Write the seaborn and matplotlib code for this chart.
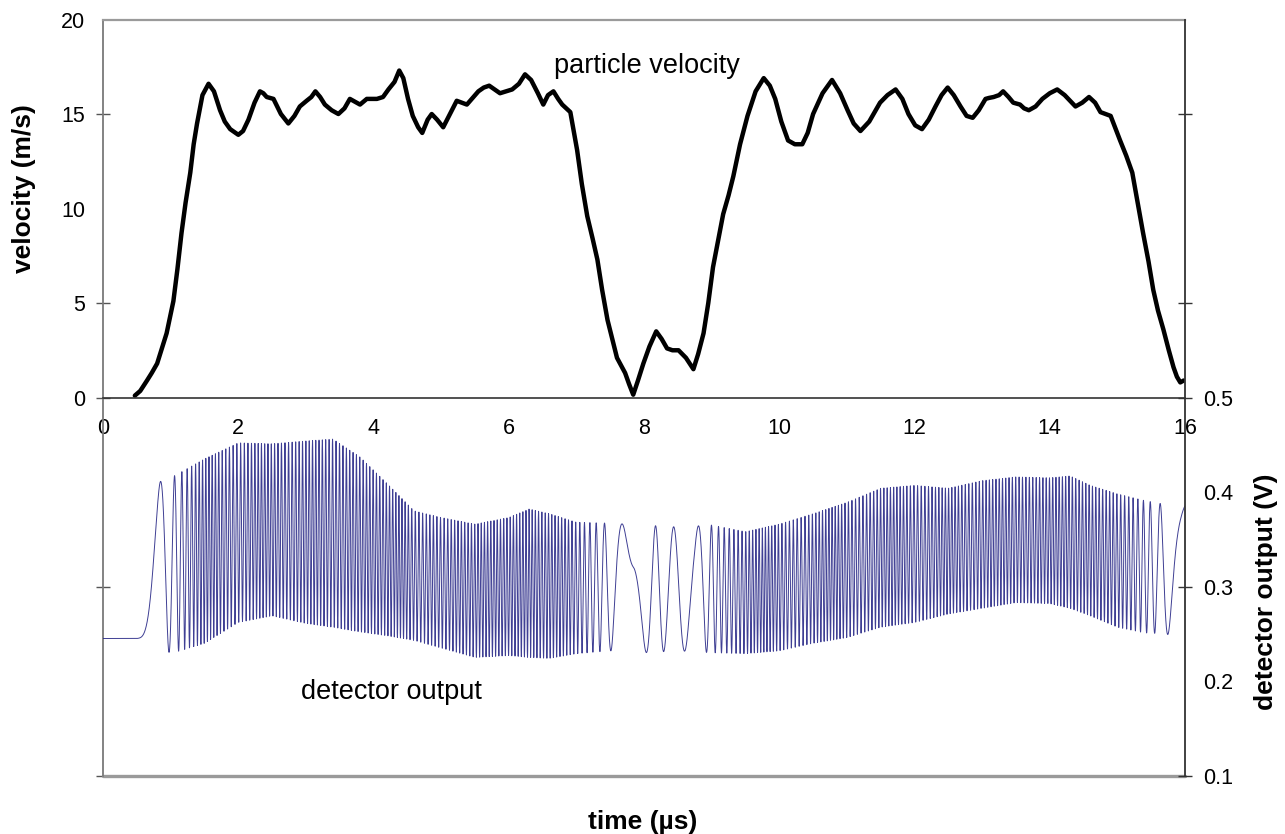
import numpy as np
import matplotlib
matplotlib.use("Agg")
import matplotlib.pyplot as plt
import seaborn as sns

# particle velocity (time in us, velocity in m/s)
t_vel = [0.47, 0.55, 0.65, 0.72, 0.80, 0.94, 1.04, 1.10, 1.16, 1.22, 1.29, 1.34, 1.39, 1.47,
         1.56, 1.64, 1.73, 1.80, 1.88, 2.00, 2.07, 2.15, 2.24, 2.32, 2.37, 2.42, 2.52, 2.63,
         2.74, 2.83, 2.91, 3.01, 3.08, 3.14, 3.21, 3.28, 3.38, 3.48, 3.57, 3.65, 3.80, 3.90,
         4.05, 4.14, 4.22, 4.31, 4.38, 4.44, 4.51, 4.58, 4.66, 4.72, 4.80, 4.86, 4.94, 5.03,
         5.13, 5.23, 5.38, 5.55, 5.63, 5.71, 5.87, 6.05, 6.15, 6.24, 6.33, 6.43, 6.51, 6.58,
         6.66, 6.73, 6.79, 6.91, 7.01, 7.08, 7.16, 7.24, 7.31, 7.38, 7.46, 7.60, 7.72, 7.78,
         7.84, 7.91, 7.99, 8.08, 8.18, 8.26, 8.34, 8.42, 8.51, 8.62, 8.73, 8.80, 8.88, 8.95,
         9.02, 9.10, 9.17, 9.25, 9.32, 9.42, 9.53, 9.65, 9.77, 9.86, 9.94, 10.03, 10.13,
         10.23, 10.34, 10.42, 10.50, 10.64, 10.78, 10.90, 11.01, 11.10, 11.20, 11.33, 11.49,
         11.60, 11.72, 11.82, 11.91, 12.01, 12.11, 12.21, 12.31, 12.40, 12.49, 12.58, 12.68,
         12.77, 12.86, 12.95, 13.05, 13.10, 13.17, 13.25, 13.31, 13.39, 13.46, 13.56, 13.62,
         13.69, 13.79, 13.89, 14.00, 14.11, 14.22, 14.30, 14.38, 14.48, 14.58, 14.67, 14.75,
         14.90, 15.04, 15.13, 15.22, 15.30, 15.38, 15.46, 15.53, 15.60, 15.68, 15.76, 15.83,
         15.88, 15.93, 15.98]
velocity = [0.1, 0.35, 0.9, 1.3, 1.8, 3.4, 5.1, 6.8, 8.7, 10.3, 11.9, 13.4, 14.5, 16.0,
            16.6, 16.2, 15.2, 14.6, 14.2, 13.9, 14.1, 14.7, 15.6, 16.2, 16.1, 15.9, 15.8, 15.0,
            14.5, 14.9, 15.4, 15.7, 15.9, 16.2, 15.9, 15.5, 15.2, 15.0, 15.3, 15.8, 15.5, 15.8,
            15.8, 15.9, 16.3, 16.7, 17.3, 16.9, 15.8, 14.9, 14.3, 14.0, 14.7, 15.0, 14.7, 14.3,
            15.0, 15.7, 15.5, 16.2, 16.4, 16.5, 16.1, 16.3, 16.6, 17.1, 16.8, 16.1, 15.5, 16.0,
            16.2, 15.8, 15.5, 15.1, 13.1, 11.3, 9.6, 8.4, 7.3, 5.7, 4.1, 2.1, 1.3, 0.7,
            0.15, 0.9, 1.8, 2.7, 3.5, 3.1, 2.6, 2.5, 2.5, 2.1, 1.5, 2.3, 3.4, 5.0,
            6.9, 8.4, 9.7, 10.7, 11.7, 13.4, 14.9, 16.2, 16.9, 16.5, 15.8, 14.6, 13.6,
            13.4, 13.4, 14.0, 15.0, 16.1, 16.8, 16.1, 15.2, 14.5, 14.1, 14.6, 15.6,
            16.0, 16.3, 15.8, 15.0, 14.4, 14.2, 14.7, 15.4, 16.0, 16.4, 16.0, 15.4,
            14.9, 14.8, 15.2, 15.8, 15.85, 15.9, 16.0, 16.2, 15.9, 15.6, 15.5, 15.3,
            15.2, 15.4, 15.8, 16.1, 16.3, 16.0, 15.7, 15.4, 15.6, 15.9, 15.6, 15.1,
            14.9, 13.6, 12.8, 11.9, 10.3, 8.7, 7.2, 5.7, 4.6, 3.6, 2.5, 1.6,
            1.1, 0.8, 0.9]

# detector output envelope (time in us, volts)
t_env = [0.0, 0.75, 0.80, 1.0, 1.5, 2.0, 2.5, 3.0, 3.4, 3.8, 4.2, 4.6, 5.0, 5.5, 6.0, 6.3,
         6.6, 7.0, 7.5, 8.0, 8.5, 9.0, 9.5, 10.0, 10.5, 11.0, 11.5, 12.0, 12.5, 13.0, 13.5,
         14.0, 14.3, 14.6, 15.0, 15.4, 15.7, 16.0]
env_upper = [0.41, 0.41, 0.41, 0.415, 0.435, 0.452, 0.451, 0.454, 0.456, 0.437, 0.409, 0.38,
             0.373, 0.366, 0.373, 0.382, 0.377, 0.368, 0.367, 0.365, 0.363, 0.365, 0.358,
             0.366, 0.377, 0.389, 0.404, 0.407, 0.404, 0.412, 0.416, 0.415, 0.417, 0.407,
             0.398, 0.391, 0.387, 0.387]
env_lower = [0.245, 0.245, 0.24, 0.229, 0.24, 0.262, 0.269, 0.261, 0.257, 0.252, 0.248, 0.243,
             0.235, 0.225, 0.227, 0.225, 0.224, 0.229, 0.232, 0.23, 0.232, 0.23, 0.229,
             0.232, 0.24, 0.246, 0.257, 0.262, 0.271, 0.277, 0.283, 0.282, 0.277, 0.269,
             0.257, 0.251, 0.25, 0.245]
wavelength_um = 1.55  # one fringe per half wavelength of displacement

x_ticks = [0, 2, 4, 6, 8, 10, 12, 14, 16]
vel_ticks = [-20, -10, 0, 5, 10, 15, 20]
vel_ticklabels = ["", "", "0", "5", "10", "15", "20"]
det_ticks = [0.1, 0.2, 0.3, 0.4, 0.5, 0.6, 0.8]
det_ticklabels = ["0.1", "0.2", "0.3", "0.4", "0.5", "", ""]

# fringe signal: phase follows the integrated velocity, envelope from the readings
t_fine = np.linspace(0, 16, 32001)
v_fine = np.interp(t_fine, t_vel, velocity, left=0.0, right=velocity[-1])
disp = np.concatenate([[0], np.cumsum(0.5 * (v_fine[1:] + v_fine[:-1]) * np.diff(t_fine))])
up = np.interp(t_fine, t_env, env_upper)
lo = np.interp(t_fine, t_env, env_lower)
detector = (up + lo) / 2 - (up - lo) / 2 * np.cos(2 * np.pi * 2 * disp / wavelength_um)

sns.set_style("white")
plt.rcParams["font.family"] = ["Liberation Sans", "DejaVu Sans"]
plt.rcParams["text.color"] = "black"
plt.rcParams["xtick.labelcolor"] = "black"
plt.rcParams["ytick.labelcolor"] = "black"

fig = plt.figure(figsize=(12.85, 8.34), dpi=100)
ax = fig.add_axes([0.0802, 0.0701, 0.8420, 0.9065])
ax2 = ax.twinx()

sns.lineplot(x=t_fine, y=detector, ax=ax2, color="#2a2a88", lw=0.7, alpha=0.9)
sns.lineplot(x=t_vel, y=velocity, ax=ax, color="black", lw=3.2,
             solid_joinstyle="round", solid_capstyle="round")

ax.set_xlim(0, 16)
ax.set_ylim(-20, 20)
ax2.set_ylim(0.1, 0.9)

ax.set_xticks(x_ticks)
ax.set_xticklabels([str(v) for v in x_ticks])
ax.set_yticks(vel_ticks)
ax.set_yticklabels(vel_ticklabels)
ax2.set_yticks(det_ticks)
ax2.set_yticklabels(det_ticklabels)

# tick marks that the reference leaves out
for i, tk in enumerate(ax.yaxis.get_major_ticks()):
    if vel_ticks[i] in (10, 20):
        tk.tick1line.set_visible(False)
for i, tk in enumerate(ax2.yaxis.get_major_ticks()):
    if det_ticks[i] in (0.2, 0.4):
        tk.tick2line.set_visible(False)

ax.tick_params(axis="x", direction="inout", length=10, width=1, color="#555555",
               labelsize=15.5, labelcolor="black", pad=10)
ax.tick_params(axis="y", direction="inout", length=10, width=1, color="#555555",
               labelsize=15.5, labelcolor="black", pad=8)
ax2.tick_params(axis="y", direction="inout", length=10, width=1, color="#333333",
                labelsize=15.5, labelcolor="black", pad=8)

ax.spines["bottom"].set_position(("data", 0))
ax.spines["bottom"].set_color("#333333")
ax.spines["bottom"].set_linewidth(1.2)
ax.spines["top"].set_color("#9a9a9a")
ax.spines["top"].set_linewidth(1.6)
ax.spines["left"].set_color("#7a7a7a")
ax.spines["left"].set_linewidth(1.3)
ax.spines["right"].set_visible(False)
for s in ["top", "bottom", "left"]:
    ax2.spines[s].set_visible(False)
ax2.spines["right"].set_color("#333333")
ax2.spines["right"].set_linewidth(1.3)
ax.axhline(-20, color="#9a9a9a", lw=2.4, clip_on=False)

ax.set_xlabel("")
ax.set_ylabel("")
ax2.set_ylabel("")

ax.text(8.05, 17.55, "particle velocity", fontsize=19.5, ha="center", va="center",
        color="black")
ax.text(4.27, -15.6, "detector output", fontsize=19.5, ha="center", va="center",
        color="black")

fig.text(0.0187, 0.7734, "velocity (m/s)", fontsize=19, fontweight="bold",
         rotation=90, ha="center", va="center", color="black")
fig.text(0.9852, 0.2902, "detector output (V)", fontsize=19, fontweight="bold",
         rotation=90, ha="center", va="center", color="black")
fig.text(0.5004, 0.0138, "time (\u00b5s)", fontsize=19, fontweight="bold",
         ha="center", va="center", color="black")

fig.savefig("out.png", dpi=100)
